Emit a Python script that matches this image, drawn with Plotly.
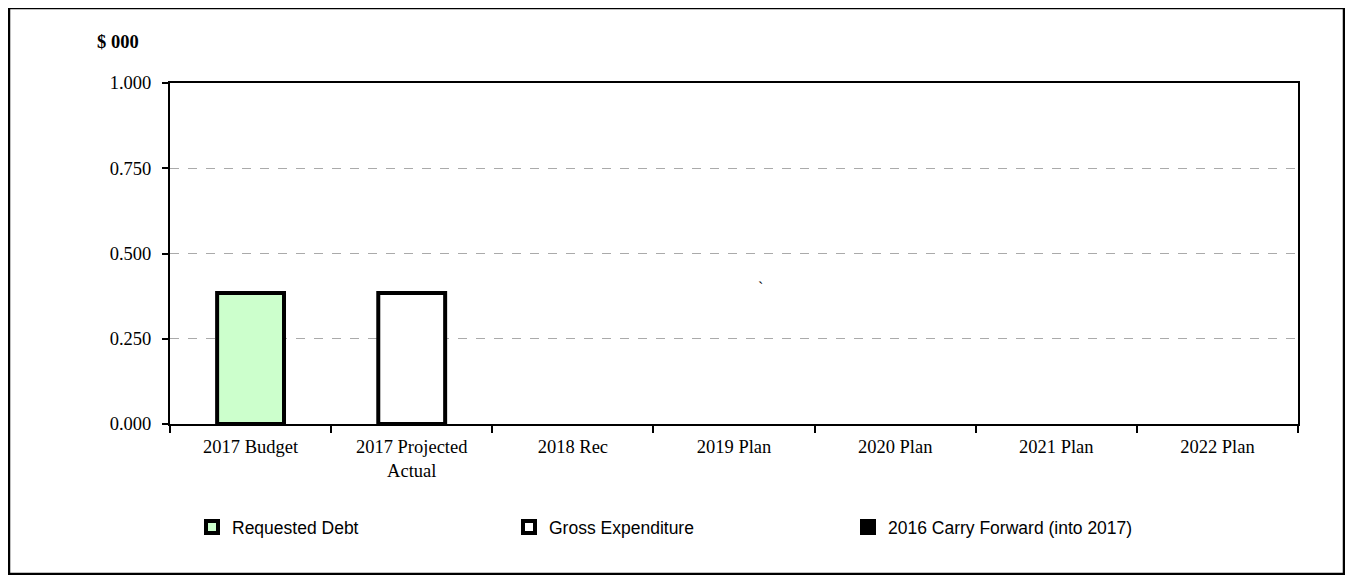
import plotly.graph_objects as go

categories = ["2017 Budget", "2017 Projected<br>Actual", "2018 Rec", "2019 Plan",
              "2020 Plan", "2021 Plan", "2022 Plan"]
requested_debt = [0.384, None, None, None, None, None, None]
gross_expenditure = [None, 0.384, None, None, None, None, None]
carry_forward = [None, None, None, None, None, None, None]
y_ticks = [0, 0.25, 0.5, 0.75, 1.0]
y_tick_labels = ["0.000", "0.250", "0.500", "0.750", "1.000"]

# figure is placed by the page at an 8px offset; all pixel values below are figure-local
W, H = 1337, 567
L, R, T, B = 162, 1290, 75, 416

def px_x(p):
    return (p - L) / (R - L)

def px_y(p):
    return (B - p) / (B - T)

fig = go.Figure()
line = dict(color="black", width=4)
fig.add_trace(go.Bar(name="Requested Debt", x=categories, y=requested_debt,
                     marker=dict(color="#ccffcc", line=line), width=0.415, legend="legend"))
fig.add_trace(go.Bar(name="Gross Expenditure", x=categories, y=gross_expenditure,
                     marker=dict(color="white", line=line), width=0.415, legend="legend2"))
fig.add_trace(go.Bar(name="2016 Carry Forward (into 2017)", x=categories, y=carry_forward,
                     marker=dict(color="black", line=line), width=0.415, legend="legend3"))

legend_font = dict(family="Liberation Sans, Arial", size=17.5, color="black")
def leg(xpx):
    return dict(orientation="h", x=px_x(xpx), y=px_y(501), xanchor="left", yanchor="top",
                font=legend_font, bgcolor="rgba(0,0,0,0)", itemclick=False,
                itemdoubleclick=False)

tick_font = dict(family="Liberation Serif, Times New Roman", size=18.5, color="black")

fig.update_layout(
    width=W, height=H,
    margin=dict(l=L, r=W - R, t=T, b=H - B),
    plot_bgcolor="white", paper_bgcolor="white",
    barmode="overlay",
    showlegend=True,
    legend=leg(184),
    legend2=leg(501),
    legend3=leg(840),
    xaxis=dict(type="category", showline=True, linecolor="black", linewidth=2, mirror=True,
               ticks="outside", tickson="boundaries", ticklen=7, tickcolor="black", tickwidth=1.5,
               tickfont=tick_font, ticklabelstandoff=5, showgrid=False),
    yaxis=dict(range=[0, 1.0], tickvals=y_ticks, ticktext=y_tick_labels,
               showline=True, linecolor="black", linewidth=2, mirror=True,
               ticks="outside", ticklen=6, tickcolor="black", tickwidth=1.5,
               tickfont=tick_font, ticklabelstandoff=7,
               showgrid=True, gridcolor="#aaaaaa", griddash="dash", gridwidth=1,
               zeroline=False),
    annotations=[
        dict(text="<b>$ 000</b>", xref="paper", yref="paper", x=px_x(87), y=px_y(34),
             xanchor="left", yanchor="middle", showarrow=False,
             font=dict(family="Liberation Serif, Times New Roman", size=18.5, color="black")),
        dict(text="`", xref="paper", yref="y", x=px_x(752), y=0.40,
             showarrow=False, font=dict(family="Liberation Serif", size=16, color="black")),
    ],
    shapes=[
        dict(type="rect", xref="paper", yref="paper",
             x0=px_x(1.0), x1=px_x(1336.0), y0=px_y(566.0), y1=px_y(0.0),
             line=dict(color="black", width=2.5), fillcolor="rgba(0,0,0,0)", layer="below"),
    ],
)

fig.write_html("out.html")
